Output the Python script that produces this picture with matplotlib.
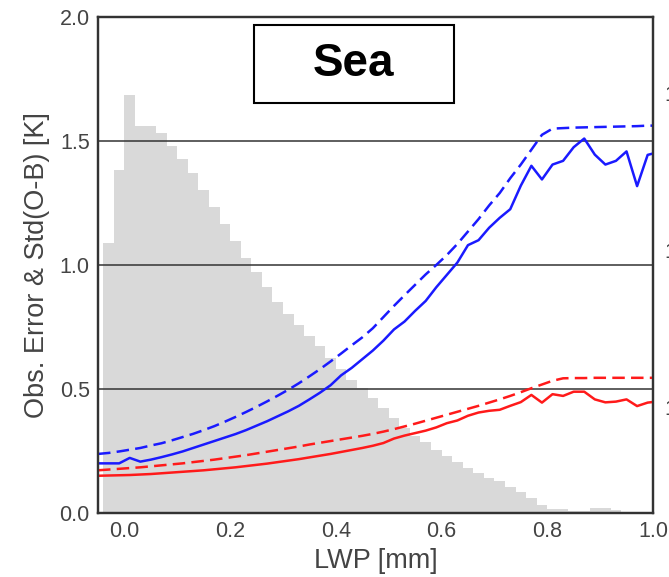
import numpy as np
from matplotlib import pyplot as plt
from matplotlib.patches import Rectangle
from matplotlib.ticker import NullLocator

plt.rcParams['font.family'] = ['Liberation Sans', 'DejaVu Sans']

# std(O-B), all-sky, sea (solid) and assigned obs. error (dashed)
std_blue = [0.200, 0.200, 0.200, 0.222, 0.207, 0.215, 0.225, 0.236, 0.248, 0.262,
            0.276, 0.290, 0.304, 0.318, 0.334, 0.352, 0.370, 0.390, 0.410, 0.432,
            0.458, 0.485, 0.515, 0.555, 0.585, 0.620, 0.655, 0.695, 0.740, 0.772,
            0.815, 0.855, 0.910, 0.960, 1.010, 1.080, 1.100, 1.150, 1.190, 1.225,
            1.320, 1.400, 1.345, 1.405, 1.420, 1.475, 1.510, 1.445, 1.405, 1.420,
            1.458, 1.318, 1.444, 1.455]
err_blue = [0.238, 0.242, 0.248, 0.255, 0.262, 0.272, 0.281, 0.293, 0.306, 0.319,
            0.334, 0.350, 0.368, 0.387, 0.407, 0.428, 0.450, 0.473, 0.497, 0.523,
            0.551, 0.580, 0.611, 0.643, 0.676, 0.708, 0.745, 0.790, 0.835, 0.878,
            0.920, 0.962, 1.000, 1.040, 1.085, 1.135, 1.185, 1.240, 1.290, 1.350,
            1.405, 1.465, 1.525, 1.550, 1.552, 1.554, 1.555, 1.556, 1.557, 1.558,
            1.559, 1.560, 1.562, 1.562]
std_red = [0.150, 0.151, 0.152, 0.153, 0.155, 0.157, 0.160, 0.163, 0.166, 0.169,
           0.172, 0.176, 0.180, 0.184, 0.189, 0.194, 0.199, 0.205, 0.211, 0.217,
           0.224, 0.231, 0.238, 0.246, 0.254, 0.262, 0.271, 0.282, 0.300, 0.312,
           0.322, 0.332, 0.345, 0.362, 0.373, 0.392, 0.405, 0.412, 0.416, 0.432,
           0.447, 0.476, 0.445, 0.479, 0.472, 0.489, 0.489, 0.458, 0.446, 0.449,
           0.458, 0.431, 0.445, 0.450]
err_red = [0.172, 0.175, 0.178, 0.181, 0.184, 0.188, 0.192, 0.196, 0.200, 0.205,
           0.210, 0.215, 0.221, 0.227, 0.233, 0.240, 0.247, 0.254, 0.261, 0.268,
           0.276, 0.283, 0.290, 0.297, 0.304, 0.311, 0.319, 0.328, 0.338, 0.349,
           0.360, 0.372, 0.384, 0.396, 0.408, 0.420, 0.432, 0.445, 0.458, 0.472,
           0.487, 0.503, 0.518, 0.533, 0.543, 0.544, 0.544, 0.545, 0.545, 0.545,
           0.545, 0.545, 0.545, 0.545]

# LWP bin centres for the error curves
lwp = np.round(-0.05 + 0.02 * np.arange(len(std_blue)), 2)

# histogram of LWP (counts per 0.02 mm bin, log axis on the right)
counts = [11040, 32350, 97100, 61900, 61900, 55360, 45960, 38000, 30800, 24110,
          18880, 14580, 11410, 8930, 7210, 5840, 4690, 3910, 3330, 2830,
          2450, 2050, 1750, 1490, 1320, 1140, 985, 850, 735, 654,
          598, 532, 487, 446, 407, 378, 355, 339, 311, 286,
          264, 238, 224, 224, 219, 219, 226, 226, 221]
bin_left = np.round(-0.04 + 0.02 * np.arange(len(counts)), 2)

fig = plt.figure(figsize=(6.69, 5.77), dpi=100)
ax = fig.add_axes([0.1465, 0.111, 0.8295, 0.8595])
ax2 = ax.twinx()

ax2.bar(bin_left, counts, width=0.02, align='edge', color='#d9d9d9', linewidth=0, log=True)
ax2.set_ylim(10 ** 2.325, 10 ** 5.484)
ax2.set_yticks([1e3, 1e4, 1e5])
ax2.yaxis.set_minor_locator(NullLocator())
ax2.tick_params(axis='y', length=0, pad=8, labelsize=15.5, labelcolor='#444444')

ax.set_zorder(ax2.get_zorder() + 1)
ax.patch.set_visible(False)

ax.plot(lwp, std_blue, color='#1a1aff', lw=1.8)
ax.plot(lwp, err_blue, color='#1a1aff', lw=1.8, ls=(0, (5, 2.5)))
ax.plot(lwp, std_red, color='#ff1a1a', lw=1.8)
ax.plot(lwp, err_red, color='#ff1a1a', lw=1.8, ls=(0, (5, 2.5)))

ax.set_xlim(-0.05, 1.0)
ax.set_ylim(0, 2.0)
ax.set_xticks([0.0, 0.2, 0.4, 0.6, 0.8, 1.0])
ax.set_yticks([0.0, 0.5, 1.0, 1.5, 2.0])
ax.yaxis.grid(True, color='#333333', lw=1.1)
ax.tick_params(length=0, labelsize=15.5, labelcolor='#444444')
ax.tick_params(axis='x', pad=6)
ax.tick_params(axis='y', pad=6)
ax.set_xlabel('LWP [mm]', fontsize=19.5, color='#444444', labelpad=4)
ax.set_ylabel('Obs. Error & Std(O-B) [K]', fontsize=19.5, color='#444444', labelpad=7)

for a in (ax, ax2):
    for s in a.spines.values():
        s.set_color('#333333')
        s.set_linewidth(1.6)

ax.add_patch(Rectangle((0.281, 0.827), 0.36, 0.156, transform=ax.transAxes,
                       facecolor='white', edgecolor='black', lw=1.5, zorder=5))
ax.text(0.461, 0.905, 'Sea', transform=ax.transAxes, ha='center', va='center',
        fontsize=33, fontweight='bold', zorder=6)

fig.savefig('out.png', dpi=100)
